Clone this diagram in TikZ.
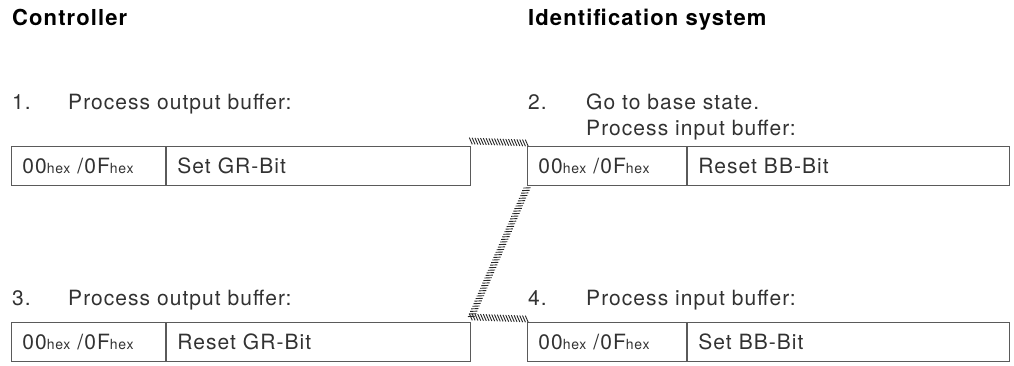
\documentclass[tikz,border=0pt]{standalone}
\usepackage{fontspec}
\setmainfont[LetterSpace=5]{TeX Gyre Heros}
\usetikzlibrary{positioning, decorations.markings}
\definecolor{txtgray}{RGB}{50,50,50}
\definecolor{boxgray}{RGB}{90,90,90}
\newcommand{\hexsub}{{\fontsize{14}{16}\selectfont hex}}
\tikzset{
    heading/.style={anchor=base west, font=\fontsize{22}{26}\selectfont\bfseries, text=black, inner sep=0pt},
    steptxt/.style={anchor=base west, font=\fontsize{21}{26}\selectfont, text=txtgray, inner sep=0pt, align=left},
    cell/.style={draw=boxgray, line width=0.9pt, minimum height=39pt, inner xsep=11pt, inner ysep=0pt,
        text width=#1, align=left, font=\fontsize{21}{25}\selectfont, text=txtgray},
    link/.style={decorate, decoration={markings,
        mark=between positions 0 and 1 step 2.8pt with {\draw[line width=0.9pt, black!85] (-1.6pt,3.3pt) -- (1.6pt,-3.3pt);}}}
}
\begin{document}
\begin{tikzpicture}[x=1pt, y=1pt]
    \useasboundingbox (0,0) rectangle (1014,365);
    % headings
    \node[heading] (ctrl) at (12,339) {Controller};
    \node[heading] (ident) at (528,339) {Identification system};
    % step texts
    \node[steptxt] (n1) at (12,256) {1.};
    \node[steptxt] (s1) at (68,256) {Process output buffer:};
    \node[steptxt] (n2) at (528,256) {2.};
    \node[steptxt, anchor=north west] (s2) at (586,271) {Go to base state.\\Process input buffer:};
    \node[steptxt] (n3) at (12,60) {3.};
    \node[steptxt] (s3) at (68,60) {Process output buffer:};
    \node[steptxt] (n4) at (528,60) {4.};
    \node[steptxt] (s4) at (586,60) {Process input buffer:};
    % buffers
    \node[cell=132pt, anchor=north west] (hexa) at (11,219) {00\hexsub{} /0F\hexsub};
    \node[cell=282pt, anchor=west] (setgr) at (hexa.east) {Set GR-Bit};
    \node[cell=137pt, anchor=north west] (hexb) at (527,219) {00\hexsub{} /0F\hexsub};
    \node[cell=300pt, anchor=west] (resetbb) at (hexb.east) {Reset BB-Bit};
    \node[cell=132pt, anchor=north west] (hexc) at (11,43) {00\hexsub{} /0F\hexsub};
    \node[cell=282pt, anchor=west] (resetgr) at (hexc.east) {Reset GR-Bit};
    \node[cell=137pt, anchor=north west] (hexd) at (527,43) {00\hexsub{} /0F\hexsub};
    \node[cell=300pt, anchor=west] (setbb) at (hexd.east) {Set BB-Bit};
    % transfers
    \path[link] ([yshift=5pt]setgr.north east) -- ([yshift=3pt]hexb.north west);
    \path[link] ([yshift=-2pt]hexb.south west) -- ([yshift=4pt]resetgr.north east);
    \path[link] ([yshift=5pt]resetgr.north east) -- ([yshift=3pt]hexd.north west);
\end{tikzpicture}
\end{document}
